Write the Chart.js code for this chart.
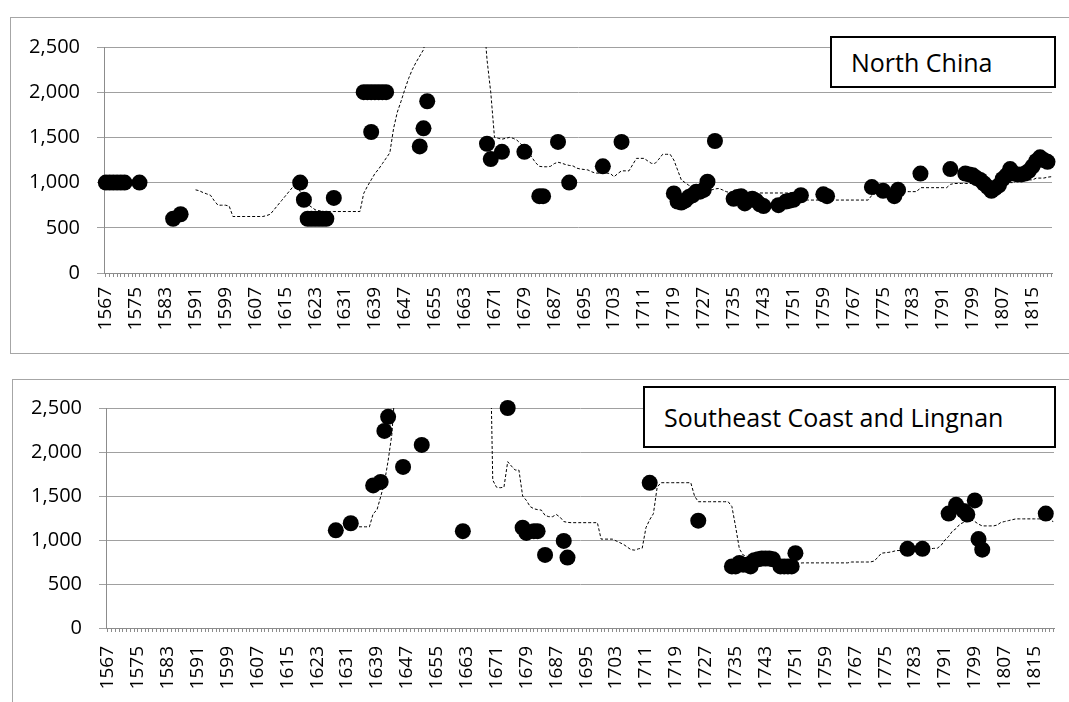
<!DOCTYPE html>
<html>
<head>
<meta charset="utf-8">
<script src="https://cdn.jsdelivr.net/npm/chart.js@4/dist/chart.umd.min.js"></script>
<style>
body{margin:0;background:#fff;width:1069px;height:702px;overflow:hidden;position:relative;font-family:"Open Sans",sans-serif}
.panel{position:absolute;border:1px solid #a6a6a6;background:#fff}
canvas{position:absolute;left:0}
.title{position:absolute;border:2px solid #000;background:#fff;box-sizing:border-box;font-size:25px;color:#000;padding-left:19px;display:flex;align-items:center;white-space:nowrap}
</style>
</head>
<body>
<div class="panel" style="left:10px;top:17px;width:1080px;height:335px"></div>
<div class="panel" style="left:12px;top:379px;width:1080px;height:340px"></div>
<canvas id="north" width="1069" height="352" style="top:0px"></canvas>
<canvas id="south" width="1069" height="347" style="top:355px"></canvas>
<div class="title" style="left:830px;top:36px;width:226px;height:52px">North China</div>
<div class="title" style="left:643px;top:386px;width:413px;height:62px">Southeast Coast and Lingnan</div>
<script>
// x categories: one tick per year, a label every 8 years
var years = [];
for (var y = 1567; y <= 1820; y++) years.push(y);
var yTicks = [0, 500, 1000, 1500, 2000, 2500];

// North China - dots
var northDotYears = [1567,1568,1569,1570,1571,1572,1576,1585,1587,1619,1620,1621,1622,1623,1624,1625,1626,1628,
  1636,1637,1638,1639,1640,1641,1642,1638,1651,1652,1653,1669,1670,1673,1679,1683,1684,1688,1691,1700,1705,
  1719,1720,1721,1722,1723,1724,1725,1726,1727,1728,1730,1735,1736,1737,1738,1739,1740,1741,1742,1743,
  1747,1749,1750,1751,1753,1759,1760,1772,1775,1778,1779,1785,1793,
  1797,1798,1799,1800,1801,1802,1803,1804,1805,1806,1807,1808,1809,1810,1811,1812,1813,1814,1815,1816,1817,1818,1819];
var northDotValues = [1000,1000,1000,1000,1000,1000,1000,600,650,1000,810,600,600,600,600,600,600,830,
  2000,2000,2000,2000,2000,2000,2000,1560,1400,1600,1900,1430,1260,1340,1340,850,850,1450,1000,1180,1450,
  880,790,780,800,840,860,900,900,920,1010,1460,820,840,850,770,810,820,800,760,740,
  750,790,800,810,860,870,850,950,910,850,920,1100,1150,
  1100,1090,1080,1050,1030,990,950,910,940,970,1040,1080,1150,1100,1090,1090,1100,1130,1180,1240,1280,1250,1230];

// North China - dashed line, one value per year from 1591
var northLineStart = 1591;
var northLineValues = [
  920,910,890,875,860,800,750,750,750,740,
  625,625,625,625,625,625,625,625,625,635,
  650,700,750,800,850,900,950,990,900,800,
  760,730,700,690,680,680,680,680,680,680,
  680,680,680,680,680,880,960,1030,1100,1150,
  1210,1270,1330,1600,1780,1900,2030,2150,2250,2330,
  2400,2470,2650,null,null,null,null,null,null,null,
  null,null,null,null,null,null,null,2900,2360,2000,
  1500,1490,1480,1490,1500,1490,1470,1430,1390,1340,
  1280,1220,1180,1175,1175,1180,1210,1225,1215,1200,
  1190,1185,1160,1150,1145,1140,1120,1105,1105,1105,
  1105,1100,1065,1100,1130,1130,1130,1200,1268,1268,
  1268,1240,1213,1213,1260,1313,1313,1313,1250,1140,
  1030,1000,970,955,950,940,935,925,918,930,
  935,920,900,890,885,885,885,885,885,885,
  885,885,885,885,885,885,885,885,885,885,
  885,885,885,810,807,807,807,807,807,807,
  807,807,807,807,807,807,807,807,807,807,
  807,860,880,880,880,880,880,880,880,880,
  900,900,900,900,944,944,944,944,944,944,
  944,944,980,990,990,990,990,990,990,990,
  1000,1000,1000,1000,1000,1000,1000,1000,1000,1000,
  1030,1030,1030,1030,1030,1050,1050,1050,1060,1065
];

// Southeast Coast and Lingnan - dots
var southDotYears = [1628,1632,1638,1640,1641,1642,1646,1651,1662,1674,1678,1679,1681,1682,1684,1689,1690,
  1712,1725,1734,1735,1736,1737,1738,1739,1740,1741,1742,1743,1744,1745,1747,1748,1749,1750,1751,
  1781,1785,1792,1794,1796,1797,1799,1800,1801,1818];
var southDotValues = [1110,1190,1620,1660,2240,2400,1830,2080,1100,2500,1140,1080,1100,1100,830,990,800,
  1650,1220,700,700,740,720,720,700,770,780,790,790,790,780,700,700,700,700,850,
  900,900,1300,1400,1330,1290,1450,1010,890,1300];

// Southeast Coast and Lingnan - dashed line, one value per year from 1629
var southLineStart = 1629;
var southLineValues = [
  1120,1140,
  1150,1150,1150,1150,1150,1150,1150,1300,1340,1490,
  1650,1900,2200,2800,null,null,null,null,null,null,
  null,null,null,null,null,null,null,null,null,null,
  null,null,null,null,null,null,null,null,4000,1680,
  1600,1594,1600,1890,1840,1795,1795,1500,1450,1380,
  1355,1345,1340,1280,1265,1265,1290,1260,1210,1200,
  1197,1197,1197,1197,1197,1197,1197,1197,1010,1010,
  1010,1010,990,970,950,920,890,885,900,907,
  1140,1230,1300,1600,1651,1651,1651,1651,1651,1651,
  1651,1651,1651,1500,1435,1435,1435,1435,1435,1435,
  1435,1435,1435,1380,1150,900,830,815,810,800,
  790,780,770,760,755,750,745,742,740,738,
  737,737,740,740,740,740,740,740,740,740,
  740,740,740,740,740,750,750,750,750,750,
  750,760,800,850,855,860,868,880,880,880,
  880,885,890,890,895,900,900,905,907,940,
  1000,1040,1100,1130,1180,1200,1210,1230,1210,1180,
  1160,1160,1160,1160,1170,1200,1210,1220,1230,1240,
  1240,1240,1240,1240,1240,1240,1240,1240,1225,1210
];

function dots(yrs, vals) {
  return yrs.map(function (yr, i) { return {x: yr, y: vals[i]}; });
}
function line(start, vals) {
  return vals.map(function (v, i) { return {x: start + i, y: v}; });
}

function makePanel(id, dotPts, linePts, axisW, axisH, pad, xLabelPad) {
  new Chart(document.getElementById(id), {
    type: 'scatter',
    data: {
      datasets: [
        {data: dotPts, showLine: false, pointRadius: 8, pointHoverRadius: 8,
         pointBackgroundColor: '#000', pointBorderWidth: 0, clip: false},
        {data: linePts, showLine: true, borderColor: '#000', borderWidth: 1, borderDash: [3, 2],
         pointRadius: 0, spanGaps: false, tension: 0}
      ]
    },
    options: {
      responsive: false,
      animation: false,
      events: [],
      layout: {padding: pad},
      plugins: {legend: {display: false}, tooltip: {enabled: false}},
      scales: {
        x: {
          type: 'linear', min: 1566.5, max: 1820.2,
          afterBuildTicks: function (ax) { ax.ticks = years.map(function (v) { return {value: v}; }); },
          afterFit: function (ax) {
            ax.height = axisH;
            ax.paddingLeft = 0; ax.paddingRight = 0;
          },
          ticks: {
            autoSkip: false, minRotation: 90, maxRotation: 90, padding: xLabelPad,
            color: '#000', font: {family: 'Open Sans', size: 19},
            callback: function (v) { return (v - 1567) % 8 === 0 ? String(v) : ''; }
          },
          grid: {drawOnChartArea: false, drawTicks: true, tickLength: 4, color: '#8c8c8c'},
          border: {color: '#8c8c8c'}
        },
        y: {
          min: 0, max: 2500,
          afterBuildTicks: function (ax) { ax.ticks = yTicks.map(function (v) { return {value: v}; }); },
          afterFit: function (ax) {
            ax.width = axisW;
            ax.paddingTop = 0; ax.paddingBottom = 0;
          },
          ticks: {
            padding: 17, color: '#000', font: {family: 'Open Sans', size: 20},
            callback: function (v) { return v.toLocaleString('en-US'); }
          },
          grid: {color: '#a0a0a0', tickLength: 7},
          border: {color: '#8c8c8c'}
        }
      }
    }
  });
}

makePanel('north', dots(northDotYears, northDotValues), line(northLineStart, northLineValues),
  104, 79, {top: 47, right: 17, left: 0, bottom: 0}, 10);
makePanel('south', dots(southDotYears, southDotValues), line(southLineStart, southLineValues),
  106, 74, {top: 53, right: 15, left: 0, bottom: 0}, 14);
</script>
</body>
</html>
